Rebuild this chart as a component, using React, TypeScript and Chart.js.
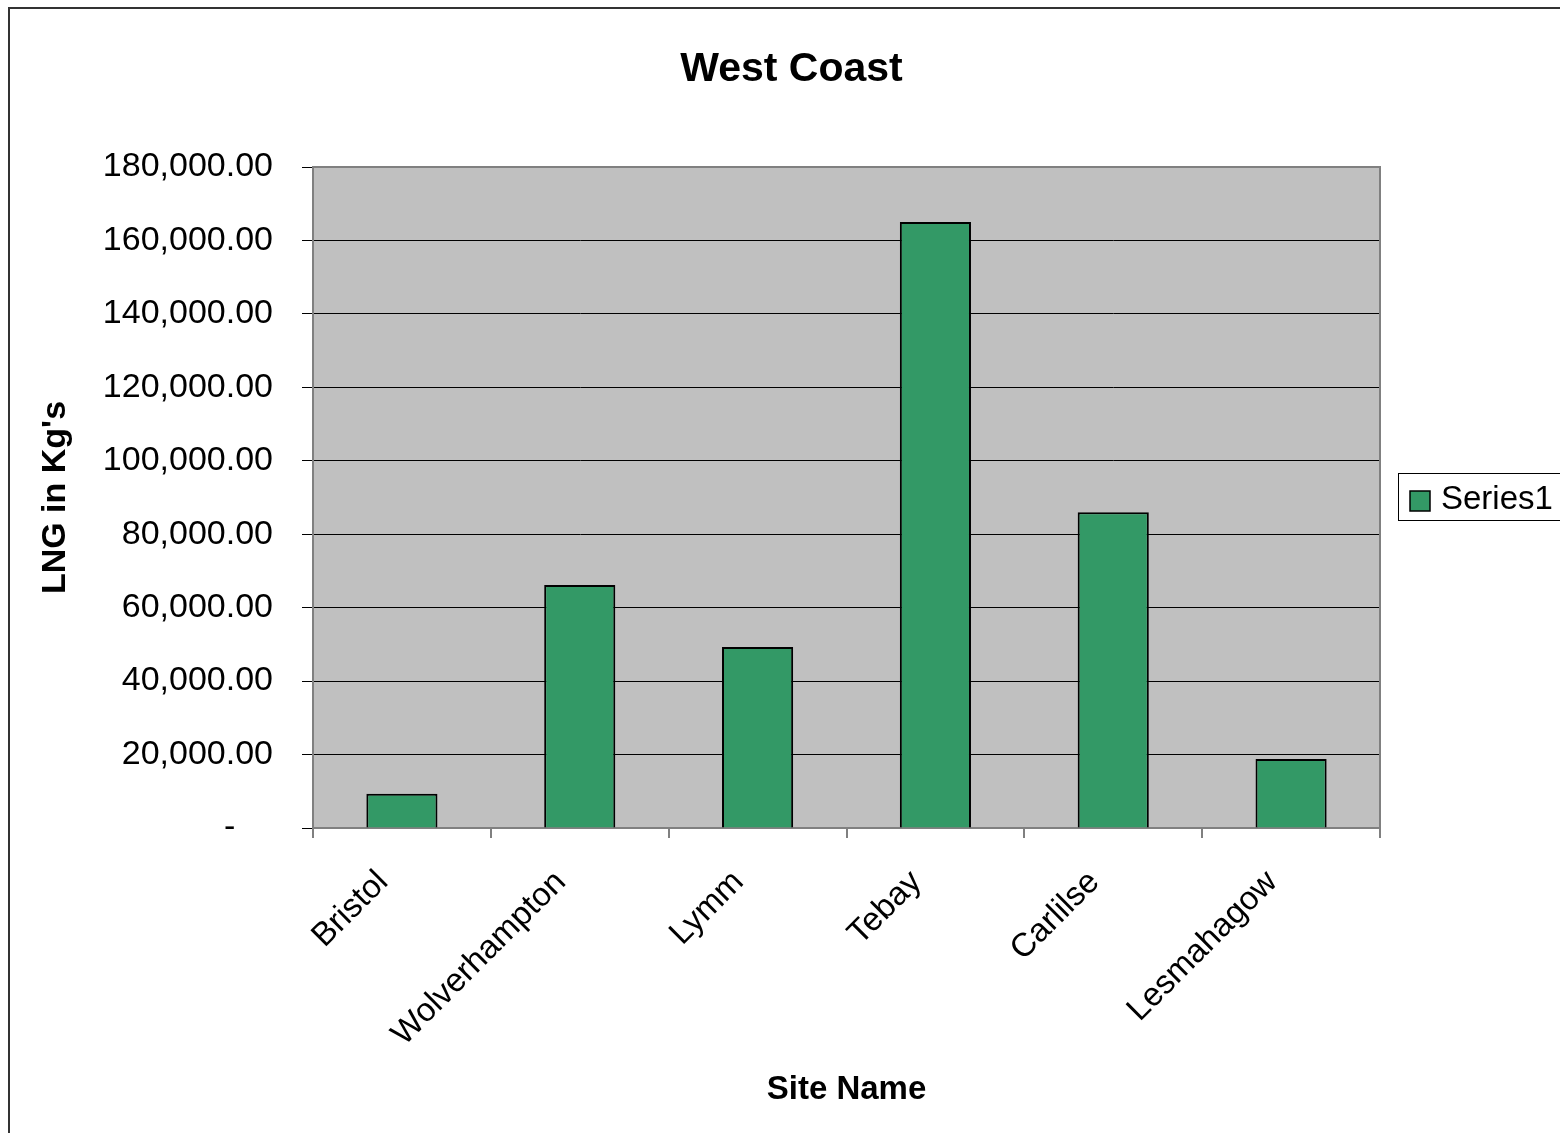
import React, { useEffect, useRef } from 'react';
import { Chart, registerables } from 'chart.js';

Chart.register(...registerables);

const chartTitle = 'West Coast';
const xAxisTitle = 'Site Name';
const yAxisTitle = "LNG in Kg's";
const seriesName = 'Series1';
const categories = ['Bristol', 'Wolverhampton', 'Lymm', 'Tebay', 'Carlilse', 'Lesmahagow'];
const seriesValues = [9300, 66200, 49300, 165000, 86000, 18800];
const yMin = 0;
const yMax = 180000;
const yStep = 20000;

const FONT = '"Liberation Sans", Arial, sans-serif';
const BAR_COLOR = '#339966';

const plotBackground = {
  id: 'plotBackground',
  beforeDraw(chart: any) {
    const { ctx, chartArea } = chart;
    ctx.save();
    ctx.fillStyle = '#c0c0c0';
    ctx.fillRect(chartArea.left, chartArea.top, chartArea.right - chartArea.left, chartArea.bottom - chartArea.top);
    ctx.restore();
  },
};

const decorations = {
  id: 'decorations',
  afterDraw(chart: any) {
    const { ctx, chartArea } = chart;
    ctx.save();
    // plot frame top/right
    ctx.strokeStyle = '#808080';
    ctx.lineWidth = 2;
    ctx.beginPath();
    ctx.moveTo(chartArea.left, chartArea.top);
    ctx.lineTo(chartArea.right, chartArea.top);
    ctx.lineTo(chartArea.right, chartArea.bottom);
    ctx.stroke();

    // outer chart border
    ctx.strokeStyle = '#333333';
    ctx.lineWidth = 2;
    ctx.strokeRect(9, 8, 1700, 1300);

    // chart title
    ctx.fillStyle = '#000000';
    ctx.font = `bold 41px ${FONT}`;
    ctx.textAlign = 'center';
    ctx.textBaseline = 'alphabetic';
    ctx.fillText(chartTitle, 791.5, 81);

    // legend
    const ds = chart.data.datasets[0];
    ctx.fillStyle = '#ffffff';
    ctx.fillRect(1398.5, 473.5, 200, 47);
    ctx.strokeStyle = '#000000';
    ctx.lineWidth = 1;
    ctx.strokeRect(1398.5, 473.5, 200, 47);
    ctx.fillStyle = ds.backgroundColor;
    ctx.fillRect(1410, 491, 20, 20);
    ctx.strokeStyle = '#000000';
    ctx.lineWidth = 1.5;
    ctx.strokeRect(1410, 491, 20, 20);
    ctx.fillStyle = '#000000';
    ctx.font = `33px ${FONT}`;
    ctx.textBaseline = 'alphabetic';
    ctx.textAlign = 'left';
    ctx.fillText(ds.label, 1441, 509);
    ctx.restore();
  },
};

export default function App() {
  const canvasRef = useRef<HTMLCanvasElement | null>(null);

  useEffect(() => {
    const canvas = canvasRef.current;
    if (!canvas) return;
    const chart = new Chart(canvas, {
      type: 'bar',
      data: {
        labels: categories,
        datasets: [
          {
            label: seriesName,
            data: seriesValues,
            backgroundColor: BAR_COLOR,
            borderColor: '#000000',
            borderWidth: 2,
            barPercentage: 0.4,
            categoryPercentage: 1,
          },
        ],
      },
      options: {
        responsive: false,
        animation: false,
        devicePixelRatio: 1,
        layout: { padding: { left: 0, right: 180, top: 167, bottom: 0 } },
        plugins: {
          legend: { display: false },
          tooltip: { enabled: false },
          title: { display: false },
        },
        scales: {
          x: {
            offset: true,
            grid: {
              offset: true,
              drawOnChartArea: false,
              drawTicks: true,
              tickLength: 10,
              color: '#808080',
              lineWidth: 2,
            },
            border: { display: true, color: '#808080', width: 2 },
            ticks: {
              color: '#000000',
              font: { family: FONT, size: 33 },
              minRotation: 45,
              maxRotation: 45,
              padding: 25,
              labelOffset: -19,
              autoSkip: false,
            },
            title: {
              display: true,
              text: xAxisTitle,
              color: '#000000',
              font: { family: FONT, size: 33, weight: 'bold' },
              padding: { top: 0, bottom: 23 },
            },
            afterFit(scale: any) {
              scale.height = 305;
            },
          },
          y: {
            min: yMin,
            max: yMax,
            grid: {
              color: '#000000',
              lineWidth: 1,
              drawTicks: true,
              tickLength: 11,
              tickColor: '#000000',
            },
            border: { display: true, color: '#808080', width: 2 },
            ticks: {
              stepSize: yStep,
              color: '#000000',
              font: { family: FONT, size: 34 },
              padding: 29,
              callback: (v: any) =>
                Number(v) === 0
                  ? '-    '
                  : Number(v).toLocaleString('en-US', { minimumFractionDigits: 2, maximumFractionDigits: 2 }),
            },
            title: {
              display: true,
              text: yAxisTitle,
              color: '#000000',
              font: { family: FONT, size: 34, weight: 'bold' },
              padding: { top: 35, bottom: 0 },
            },
            afterFit(scale: any) {
              scale.width = 313;
            },
          },
        },
      },
      plugins: [plotBackground, decorations],
    });
    return () => chart.destroy();
  }, []);

  return (
    <div style={{ position: 'absolute', left: 0, top: 0, width: 1560, height: 1133, background: '#ffffff' }}>
      <canvas ref={canvasRef} width={1560} height={1133} style={{ display: 'block' }} />
    </div>
  );
}
